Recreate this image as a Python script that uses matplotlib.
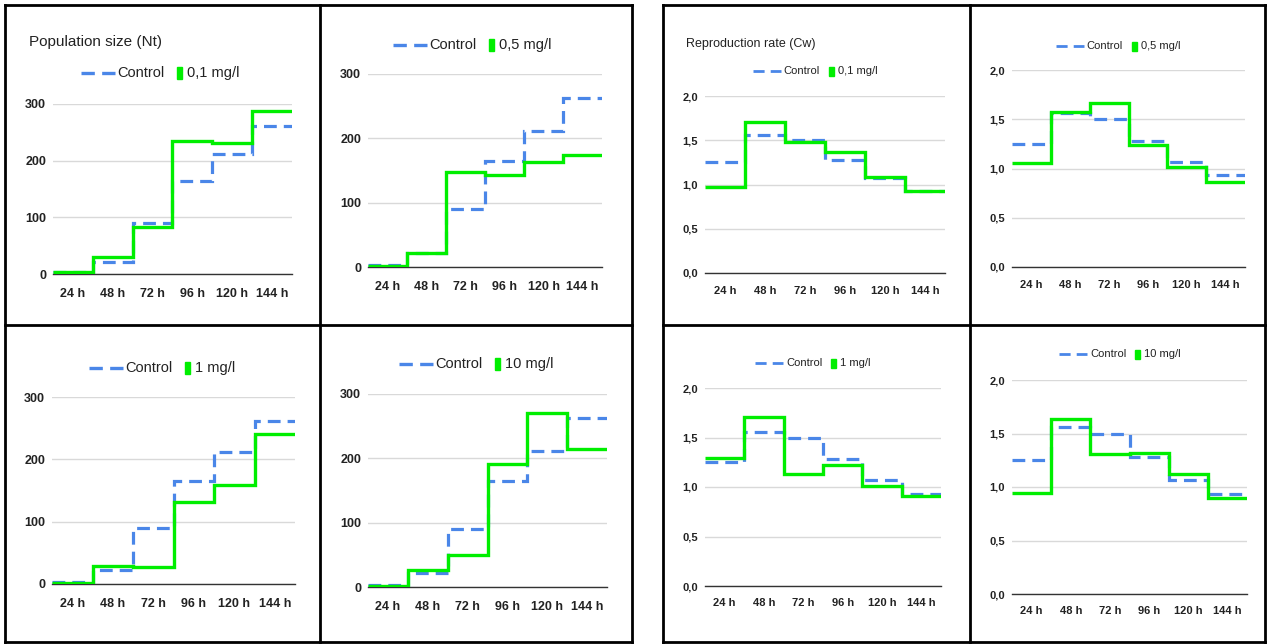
"""Population size and reproduction rate step charts, control vs. exposure."""

import matplotlib

matplotlib.use("Agg")

import matplotlib.pyplot as plt
import numpy as np
from matplotlib.lines import Line2D
from matplotlib.patches import Rectangle
from matplotlib.ticker import FuncFormatter

plt.rcParams["font.family"] = ["Liberation Sans", "DejaVu Sans"]

# ---- data -------------------------------------------------------------
hours = ["24 h", "48 h", "72 h", "96 h", "120 h", "144 h"]

nt_control = [3, 22, 90, 165, 211, 262]
nt_01 = [3, 30, 83, 234, 232, 287]
nt_05 = [2, 21, 148, 143, 163, 174]
nt_1 = [2, 29, 28, 131, 159, 240]
nt_10 = [2, 26, 50, 191, 271, 214]

cw_control = [1.25, 1.56, 1.50, 1.28, 1.07, 0.93]
cw_01 = [0.97, 1.71, 1.48, 1.37, 1.09, 0.93]
cw_05 = [1.06, 1.57, 1.67, 1.24, 1.02, 0.86]
cw_1 = [1.29, 1.71, 1.13, 1.22, 1.01, 0.91]
cw_10 = [0.94, 1.64, 1.31, 1.32, 1.12, 0.90]

# ---- style ------------------------------------------------------------
W, H = 1268, 644
BLUE = "#4a86e8"
GREEN = "#00ee00"
GRID = "#d9d9d9"
TEXT = "#222222"
DASH = (0, (4, 2.2))

fig = plt.figure(figsize=(W / 100, H / 100), dpi=100)
renderer = fig.canvas.get_renderer()


def _fx(px):
    return px / W


def _fy(py):
    return 1 - py / H


def _rect(left, right, top, bottom):
    """Pixel box -> figure fraction [l, b, w, h]."""
    return [_fx(left), _fy(bottom), (right - left) / W, (bottom - top) / H]


def _legend(cx, cy, label, big):
    """Sheets-style legend: dashed swatch, 'Control', green block, label."""
    fs = 10.5 if big else 8
    lw = 2.4 if big else 2.0
    dash_len = 34 if big else 28
    sq_w, sq_h = (5, 12) if big else (5, 9)
    gap_text, gap_sq, gap_label = (3, 12, 5) if big else (3, 9, 4)
    t1 = fig.text(0, _fy(cy), "Control", fontsize=fs, color=TEXT, va="center")
    t2 = fig.text(0, _fy(cy), label, fontsize=fs, color=TEXT, va="center")
    w1 = t1.get_window_extent(renderer).width
    w2 = t2.get_window_extent(renderer).width
    total = dash_len + gap_text + w1 + gap_sq + sq_w + gap_label + w2
    x = cx - total / 2
    fig.add_artist(Line2D([_fx(x), _fx(x + dash_len)], [_fy(cy), _fy(cy)],
                          color=BLUE, linewidth=lw, linestyle=DASH,
                          transform=fig.transFigure))
    x += dash_len + gap_text
    t1.set_x(_fx(x))
    x += w1 + gap_sq
    fig.add_artist(Rectangle((_fx(x), _fy(cy + sq_h / 2)), sq_w / W, sq_h / H,
                             color=GREEN, transform=fig.transFigure))
    x += sq_w + gap_label
    t2.set_x(_fx(x))


def _panel(box, control, treated, label, ymax, yticks, legend_xy, big, title=None):
    ax = fig.add_axes(_rect(*box))
    edges = np.arange(len(hours) + 1) - 0.5
    ax.stairs(control, edges, baseline=None, color=BLUE, linewidth=2.3,
              linestyle=DASH, zorder=3)
    ax.stairs(treated, edges, baseline=None, color=GREEN, linewidth=2.4, zorder=4)
    ax.set_xlim(edges[0], edges[-1])
    ax.set_ylim(0, ymax)
    ax.set_yticks(yticks)
    ax.set_xticks(range(len(hours)), labels=hours)
    if ymax < 10:
        ax.yaxis.set_major_formatter(
            FuncFormatter(lambda v, _: f"{v:.1f}".replace(".", ","))
        )
    ax.tick_params(axis="both", length=0, labelsize=9 if big else 8, colors=TEXT)
    ax.tick_params(axis="x", pad=10 if big else 9)
    ax.tick_params(axis="y", pad=5)
    for lab in ax.get_xticklabels() + ax.get_yticklabels():
        lab.set_fontweight("bold")
    ax.grid(axis="y", color=GRID, linewidth=1.0)
    ax.set_axisbelow(True)
    for side in ("top", "right", "left"):
        ax.spines[side].set_visible(False)
    ax.spines["bottom"].set_color("#333333")
    ax.spines["bottom"].set_linewidth(1.0)

    _legend(*legend_xy, label, big)
    if title is not None:
        text, tx, ty, tsize = title
        fig.text(_fx(tx), _fy(ty), text, fontsize=tsize, color=TEXT,
                 ha="left", va="center")
    return ax


# population size (left block)
nt_ticks = [0, 100, 200, 300]
_panel((53, 292, 104, 274), nt_control, nt_01, "0,1 mg/l", 300, nt_ticks,
       (160, 73), True, ("Population size (Nt)", 29, 42, 11))
_panel((368, 602, 74, 267), nt_control, nt_05, "0,5 mg/l", 300, nt_ticks,
       (472, 45), True)
_panel((52, 295, 397, 584), nt_control, nt_1, "1 mg/l", 300, nt_ticks,
       (162, 368), True)
_panel((368, 607, 394, 587), nt_control, nt_10, "10 mg/l", 300, nt_ticks,
       (476, 364), True)

# reproduction rate (right block)
cw_ticks = [0, 0.5, 1.0, 1.5, 2.0]
_panel((705, 945, 96, 273), cw_control, cw_01, "0,1 mg/l", 2.0, cw_ticks,
       (815, 71), False, ("Reproduction rate (Cw)", 686, 44, 9))
_panel((1012, 1245, 70, 267), cw_control, cw_05, "0,5 mg/l", 2.0, cw_ticks,
       (1118, 46), False)
_panel((705, 941, 388, 586), cw_control, cw_1, "1 mg/l", 2.0, cw_ticks,
       (813, 363), False)
_panel((1012, 1247, 380, 594), cw_control, cw_10, "10 mg/l", 2.0, cw_ticks,
       (1120, 354), False)


# table borders
def _line(x0, y0, x1, y1):
    fig.add_artist(Line2D([_fx(x0), _fx(x1)], [_fy(y0), _fy(y1)],
                          color="black", linewidth=2.0, transform=fig.transFigure))


for left, mid, right in ((5, 320, 632), (663, 970, 1265)):
    _line(left, 5, right, 5)
    _line(left, 642, right, 642)
    _line(left, 5, left, 642)
    _line(right, 5, right, 642)
    _line(mid, 5, mid, 642)
    _line(left, 325, right, 325)

fig.savefig("out.png", dpi=100)
plt.close(fig)
